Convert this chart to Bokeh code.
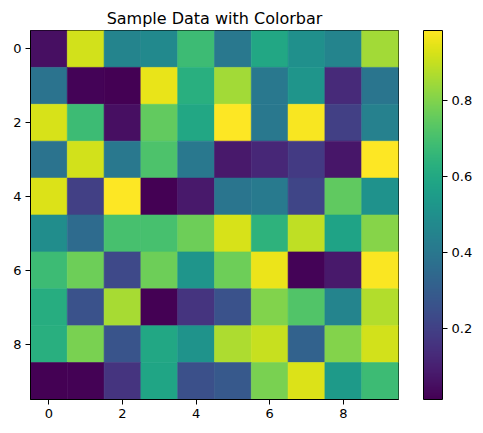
import numpy as np
from bokeh.plotting import figure
from bokeh.models import ColumnDataSource, LinearColorMapper, ColorBar, FixedTicker
from bokeh.palettes import Viridis256
from bokeh.embed import file_html
from bokeh.resources import INLINE

title_text = "Sample Data with Colorbar"
axis_ticks = [0, 2, 4, 6, 8]
cbar_ticks = [0.2, 0.4, 0.6, 0.8]
vmin, vmax = 0.013, 0.983

row0 = [0.052, 0.915, 0.450, 0.474, 0.677, 0.401, 0.595, 0.498, 0.450, 0.847]
row1 = [0.382, 0.023, 0.013, 0.949, 0.624, 0.847, 0.401, 0.517, 0.129, 0.391]
row2 = [0.925, 0.677, 0.052, 0.750, 0.595, 0.983, 0.401, 0.973, 0.197, 0.440]
row3 = [0.382, 0.915, 0.401, 0.711, 0.401, 0.081, 0.120, 0.178, 0.071, 0.980]
row4 = [0.930, 0.197, 0.980, 0.015, 0.081, 0.391, 0.410, 0.217, 0.745, 0.508]
row5 = [0.488, 0.353, 0.702, 0.702, 0.770, 0.925, 0.639, 0.891, 0.576, 0.808]
row6 = [0.677, 0.770, 0.226, 0.770, 0.517, 0.770, 0.954, 0.023, 0.081, 0.978]
row7 = [0.619, 0.256, 0.857, 0.013, 0.158, 0.256, 0.799, 0.721, 0.450, 0.871]
row8 = [0.624, 0.789, 0.265, 0.595, 0.513, 0.862, 0.900, 0.319, 0.804, 0.915]
row9 = [0.013, 0.018, 0.158, 0.585, 0.250, 0.285, 0.789, 0.930, 0.542, 0.677]
rows = [row0, row1, row2, row3, row4, row5, row6, row7, row8, row9]

xs, ys, vs = [], [], []
for i, r in enumerate(rows):
    for j, v in enumerate(r):
        xs.append(j)
        ys.append(i)
        vs.append(v)
src = ColumnDataSource(dict(x=xs, y=ys, v=vs))

mapper = LinearColorMapper(palette=Viridis256, low=vmin, high=vmax)

FONT = "DejaVu Sans"
p = figure(frame_width=368, frame_height=369, x_range=(-0.5, 9.5), y_range=(9.5, -0.5),
           output_backend="svg", toolbar_location=None, title=title_text,
           min_border_left=30, min_border_top=30, min_border_bottom=30, min_border_right=80)
cmap = {"field": "v", "transform": mapper}
p.rect(x="x", y="y", width=1, height=1, source=src,
       fill_color=cmap, line_color=cmap, line_width=0.6)

p.title.align = "center"
p.title.text_font = FONT
p.title.text_font_size = "16px"
p.title.text_font_style = "normal"
p.title.text_color = "black"
p.title.standoff = 6

p.grid.visible = False
p.outline_line_color = "black"
p.outline_line_width = 1
for ax in (p.xaxis, p.yaxis):
    ax.ticker = FixedTicker(ticks=axis_ticks)
    ax.minor_tick_line_color = None
    ax.major_tick_in = 0
    ax.major_tick_out = 5
    ax.major_tick_line_color = "black"
    ax.axis_line_color = "black"
    ax.major_label_text_font = FONT
    ax.major_label_text_font_size = "13px"
    ax.major_label_text_color = "black"
    ax.major_label_standoff = 4

cb = ColorBar(color_mapper=mapper, ticker=FixedTicker(ticks=cbar_ticks), width=19,
              padding=0, location=(25, 0), bar_line_color="black", bar_line_width=1,
              major_tick_in=0, major_tick_out=5, major_tick_line_color="black",
              minor_tick_line_color=None, label_standoff=4,
              major_label_text_font=FONT, major_label_text_font_size="13px",
              major_label_text_color="black", border_line_color=None,
              background_fill_alpha=0)
p.add_layout(cb, "right")

open("out.html", "w").write(file_html(p, INLINE))
